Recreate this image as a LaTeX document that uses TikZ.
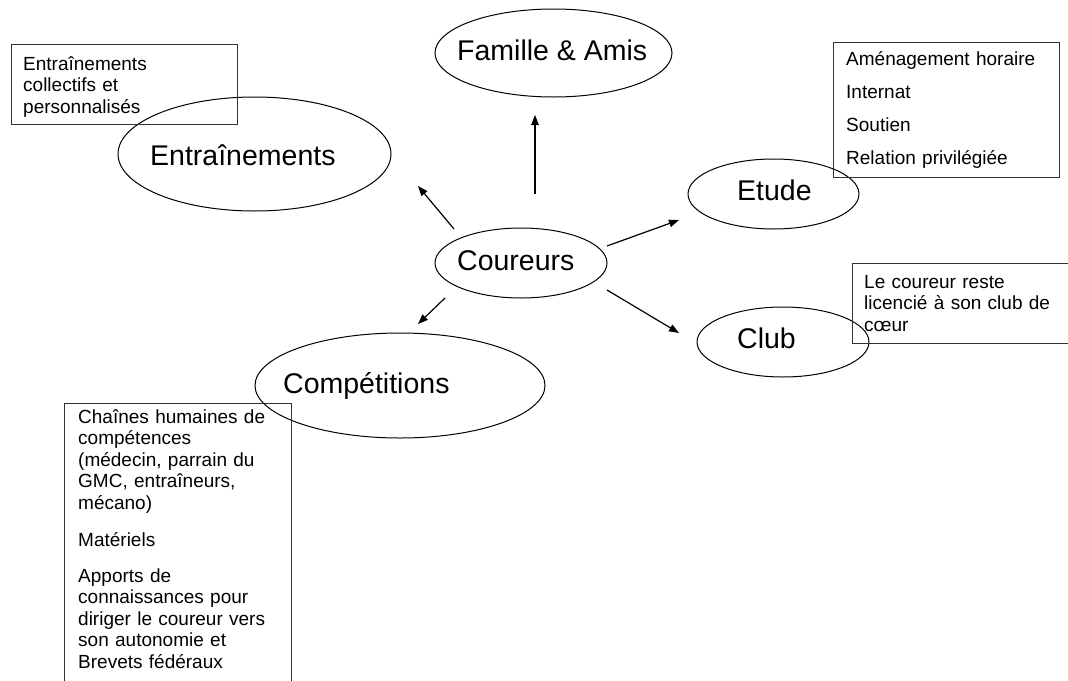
\documentclass[tikz,border=0pt]{standalone}
\usepackage{fontspec}
\setmainfont{Liberation Sans}
\usetikzlibrary{shapes.geometric,arrows.meta,positioning}

\newcommand{\grandtexte}{\fontsize{28.5}{34}\selectfont}
\newcommand{\petittexte}{\fontsize{19}{21.6}\selectfont}

\begin{document}
\begin{tikzpicture}[
    x=1pt, y=-1pt,
    bulle/.style={ellipse, draw, line width=1pt, inner sep=0pt},
    titre/.style={anchor=base west, inner sep=0pt, font=\grandtexte},
    cadre/.style={rectangle, draw=black!80, line width=1.3pt, anchor=north west, inner sep=0pt},
    note/.style={anchor=base west, inner sep=0pt, text width=235pt, align=left, font=\petittexte},
    fleche/.style={-{Triangle[length=10pt,width=7.5pt]}, line width=1.2pt}
]
    \useasboundingbox (0,0) rectangle (1068,680);

    % Ellipses
    \node[bulle, minimum width=172pt, minimum height=70pt] (coureurs) at (521,263) {};
    \node[titre] (tcoureurs) at (457,270) {Coureurs};
    \node[bulle, minimum width=273pt, minimum height=114pt] (entr) at (254.5,154) {};
    \node[titre] (tentr) at (150,165) {Entraînements};
    \node[bulle, minimum width=237pt, minimum height=88pt] (famille) at (553.5,53) {};
    \node[titre] (tfamille) at (457,60) {Famille \& Amis};
    \node[bulle, minimum width=171pt, minimum height=70pt] (etude) at (773.5,194) {};
    \node[titre] (tetude) at (737,200) {Etude};
    \node[bulle, minimum width=172pt, minimum height=70pt] (club) at (783,342) {};
    \node[titre] (tclub) at (737,348) {Club};
    \node[bulle, minimum width=290pt, minimum height=105pt] (compet) at (400,385.5) {};
    \node[titre] (tcompet) at (283,393) {Compétitions};

    % Cadres
    \node[cadre, minimum width=226pt, minimum height=80pt] (cadreentr) at (11,44) {};
    \node[note] (noteentr) at (23,70) {Entraînements\\collectifs et\\personnalisés};
    \node[cadre, minimum width=226pt, minimum height=135pt] (cadreetude) at (833,42) {};
    \node[note] (noteetude) at (846,65) {Aménagement horaire\\[11.6pt]Internat\\[11.6pt]Soutien\\[11.6pt]Relation privilégiée};
    \node[cadre, minimum width=240pt, minimum height=80pt] (cadreclub) at (852,263) {};
    \node[note] (noteclub) at (864,288) {Le coureur reste\\licencié à son club de\\cœur};
    \node[cadre, minimum width=227pt, minimum height=300pt] (cadrecompet) at (64,403) {};
    \node[note] (notecompet) at (78,423) {Chaînes humaines de\\compétences\\(médecin, parrain du\\GMC, entraîneurs,\\mécano)\\[15pt]Matériels\\[14.5pt]Apports de\\connaissances pour\\diriger le coureur vers\\son autonomie et\\Brevets fédéraux};

    % Fleches
    \draw[fleche] ([shift={(14,-69)}]coureurs.center) -- ([shift={(-18.5,62)}]famille.center);
    \draw[fleche] ([shift={(-67,-34)}]coureurs.center) -- ([shift={(163.5,32)}]entr.center);
    \draw[fleche] ([shift={(86,-17)}]coureurs.center) -- ([shift={(-94.5,26)}]etude.center);
    \draw[fleche] ([shift={(86,27)}]coureurs.center) -- ([shift={(-104,-9)}]club.center);
    \draw[fleche] ([shift={(-76,35)}]coureurs.center) -- ([shift={(18,-61.5)}]compet.center);
\end{tikzpicture}
\end{document}
